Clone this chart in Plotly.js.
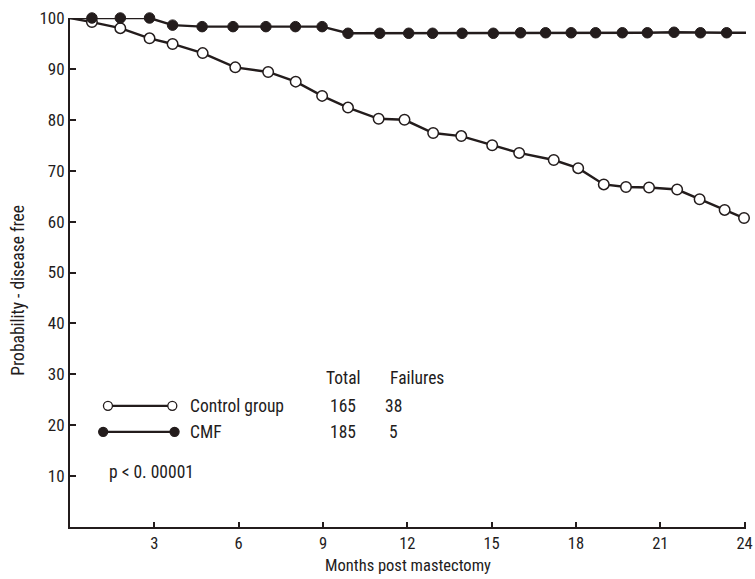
<!DOCTYPE html>
<html>
<head>
<meta charset="utf-8">
<script src="https://cdn.plot.ly/plotly-3.0.1.min.js"></script>
<style>html,body{margin:0;padding:0;background:#fff;}#chart{width:755px;height:579px;}</style>
</head>
<body>
<div id="chart"></div>
<script>
// Control group (open circles)
const controlMonths = [0, 0.78, 1.79, 2.83, 3.65, 4.72, 5.88, 7.05, 8.03, 8.97, 9.89, 10.98, 11.9, 12.92, 13.92, 15.02, 15.98, 17.21, 18.08, 18.99, 19.78, 20.6, 21.6, 22.4, 23.29, 23.98];
const controlProb   = [100, 99.2, 98.0, 96.0, 94.9, 93.1, 90.3, 89.4, 87.5, 84.7, 82.4, 80.2, 80.0, 77.4, 76.8, 75.0, 73.5, 72.1, 70.5, 67.3, 66.8, 66.7, 66.3, 64.4, 62.3, 60.7];
// CMF (filled circles)
const cmfMonths = [0, 0.78, 1.79, 2.83, 3.65, 4.7, 5.8, 6.97, 8.02, 8.97, 9.89, 11.02, 12.05, 12.9, 13.95, 15.06, 16.03, 16.92, 17.83, 18.7, 19.65, 20.54, 21.49, 22.43, 23.36, 24.24];
const cmfProb   = [100, 100, 100, 100, 98.6, 98.3, 98.3, 98.3, 98.3, 98.3, 97.0, 97.0, 97.0, 97.0, 97.0, 97.0, 97.1, 97.1, 97.1, 97.1, 97.1, 97.1, 97.2, 97.1, 97.1, 97.1];

const xTicks = [3, 6, 9, 12, 15, 18, 21, 24];
const yTicks = [10, 20, 30, 40, 50, 60, 70, 80, 90, 100];

const groupNames = ["Control group", "CMF"];
const groupTotals = [165, 185];
const groupFailures = [38, 5];
const pText = "p < 0. 00001";

const ink = "#231c1c";
const FONT = "Roboto Condensed, DejaVu Sans Condensed, sans-serif";

function sizes(arr, s) { return arr.map((v, i) => i === 0 ? 0 : s); }

const traces = [
  {
    x: controlMonths, y: controlProb, mode: "lines+markers", type: "scatter",
    name: groupNames[0], showlegend: false, cliponaxis: false,
    line: {color: ink, width: 2.4},
    marker: {symbol: "circle", size: sizes(controlMonths, 10.5), color: "#ffffff", opacity: 1, line: {color: ink, width: 1.5}}
  },
  {
    x: cmfMonths, y: cmfProb, mode: "lines+markers", type: "scatter",
    name: groupNames[1], showlegend: false, cliponaxis: false,
    line: {color: ink, width: 2.4},
    marker: {symbol: "circle", size: sizes(cmfMonths, 10.5), color: ink, opacity: 1, line: {color: ink, width: 1}}
  }
];

// key positions (data coordinates)
const keyX0 = [1.35, 1.18], keyX1 = [3.64, 3.72], keyY = [23.8, 18.7];
const textX = 4.21, totalX = 9.73, failX = 11.5, headY = 29.3;

const shapes = [];
for (let i = 0; i < 2; i++) {
  shapes.push({type: "line", xref: "x", yref: "y", x0: keyX0[i], x1: keyX1[i], y0: keyY[i], y1: keyY[i], line: {color: ink, width: 2.2}});
  [keyX0[i], keyX1[i]].forEach(xx => {
    shapes.push({type: "circle", xref: "x", yref: "y", xsizemode: "pixel", ysizemode: "pixel",
      xanchor: xx, yanchor: keyY[i], x0: -4.5, x1: 4.5, y0: -4.5, y1: 4.5,
      fillcolor: i === 0 ? "#ffffff" : ink, line: {color: ink, width: 1.3}});
  });
}

const annFont = {family: FONT, size: 17.5, color: ink};
const annotations = [
  {x: totalX, y: headY, xref: "x", yref: "y", text: "Total", showarrow: false, font: annFont, xanchor: "center"},
  {x: 12.36, y: headY, xref: "x", yref: "y", text: "Failures", showarrow: false, font: annFont, xanchor: "center"},
  {x: 1.32, y: 10.8, xref: "x", yref: "y", text: pText, showarrow: false, font: annFont, xanchor: "left"},
  {x: -0.077, y: 0.466, xref: "paper", yref: "paper", text: "Probability - disease free", textangle: -90,
   showarrow: false, font: {family: FONT, size: 17.5, color: ink}, xanchor: "center", yanchor: "middle"}
];
for (let i = 0; i < 2; i++) {
  annotations.push({x: textX, y: keyY[i], xref: "x", yref: "y", text: groupNames[i], showarrow: false, font: annFont, xanchor: "left"});
  annotations.push({x: totalX, y: keyY[i], xref: "x", yref: "y", text: String(groupTotals[i]), showarrow: false, font: annFont, xanchor: "center"});
  annotations.push({x: failX, y: keyY[i], xref: "x", yref: "y", text: String(groupFailures[i]), showarrow: false, font: annFont, xanchor: "center"});
}

const layout = {
  width: 755, height: 579,
  margin: {l: 70, r: 9, t: 18, b: 52},
  paper_bgcolor: "#ffffff", plot_bgcolor: "#ffffff",
  font: {family: FONT, size: 16, color: ink},
  showlegend: false,
  xaxis: {
    range: [0, 24.05], tickvals: xTicks, ticktext: xTicks.map(String),
    ticks: "inside", ticklen: 5, tickwidth: 2, tickcolor: ink,
    showline: true, linecolor: ink, linewidth: 2, showgrid: false, zeroline: false,
    tickfont: {family: FONT, size: 16.5, color: ink},
    title: {text: "Months post mastectomy", font: {family: FONT, size: 16.5, color: ink}, standoff: 8}
  },
  yaxis: {
    range: [0, 100], tickvals: yTicks, ticktext: yTicks.map(String),
    ticks: "inside", ticklen: 6, tickwidth: 2, tickcolor: ink,
    showline: true, linecolor: ink, linewidth: 2, showgrid: false, zeroline: false,
    tickfont: {family: FONT, size: 17, color: ink}
  },
  shapes: shapes,
  annotations: annotations
};

Plotly.newPlot("chart", traces, layout, {displayModeBar: false, staticPlot: true});
</script>
</body>
</html>
